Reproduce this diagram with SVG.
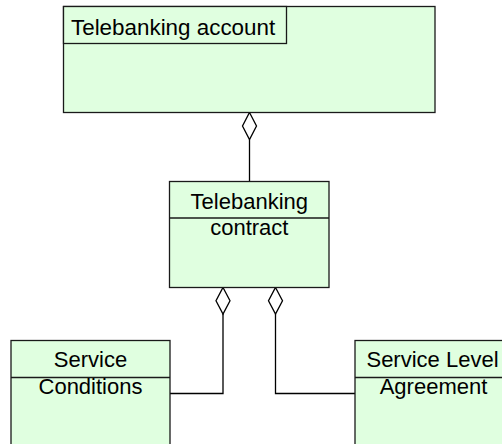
<svg xmlns="http://www.w3.org/2000/svg" width="502" height="444" viewBox="0 0 502 444">
<style>
.box{fill:#e0ffe0;stroke:#1a1a1a;stroke-width:1.3}
.lbl{font-family:"Liberation Sans",Arial,sans-serif;font-size:22px;fill:#000}
.mid{text-anchor:middle}
.conn{fill:none;stroke:#000;stroke-width:1.3}
.dia{fill:#fff;stroke:#000;stroke-width:1.3}
</style>
<rect width="502" height="444" fill="#fff"/>
<g id="connectors">
<line class="conn" x1="249.5" y1="139.5" x2="249.5" y2="181.5"/>
<polygon class="dia" points="249.5,112.5 256.5,126 249.5,139.5 242.5,126"/>
<polyline class="conn" points="223,314 223,393.5 170,393.5"/>
<polygon class="dia" points="223,287.5 230,300.75 223,314 216,300.75"/>
<polyline class="conn" points="275.5,314 275.5,393.5 355,393.5"/>
<polygon class="dia" points="275.5,287.5 282.5,300.75 275.5,314 268.5,300.75"/>
</g>
<g id="telebanking-account">
<rect class="box" x="63.5" y="6.5" width="371.5" height="106"/>
<rect class="box" x="63.5" y="6.5" width="223" height="37"/>
<text class="lbl" x="71" y="34.5" style="font-size:22.4px">Telebanking account</text>
</g>
<g id="telebanking-contract">
<rect class="box" x="169.5" y="181.5" width="159.5" height="106"/>
<line class="box" x1="169.5" y1="218" x2="329" y2="218"/>
<text class="lbl mid" x="249.3" y="209">Telebanking</text>
<text class="lbl mid" x="249.3" y="235">contract</text>
</g>
<g id="service-conditions">
<rect class="box" x="11" y="340.5" width="159" height="120"/>
<line class="box" x1="11" y1="377.5" x2="170" y2="377.5"/>
<text class="lbl mid" x="90.5" y="367">Service</text>
<text class="lbl mid" x="90.5" y="394">Conditions</text>
</g>
<g id="service-level-agreement">
<rect class="box" x="355" y="340.5" width="159" height="120"/>
<line class="box" x1="355" y1="377.5" x2="514" y2="377.5"/>
<text class="lbl mid" x="432.5" y="367">Service Level</text>
<text class="lbl mid" x="433.5" y="394">Agreement</text>
</g>
</svg>
